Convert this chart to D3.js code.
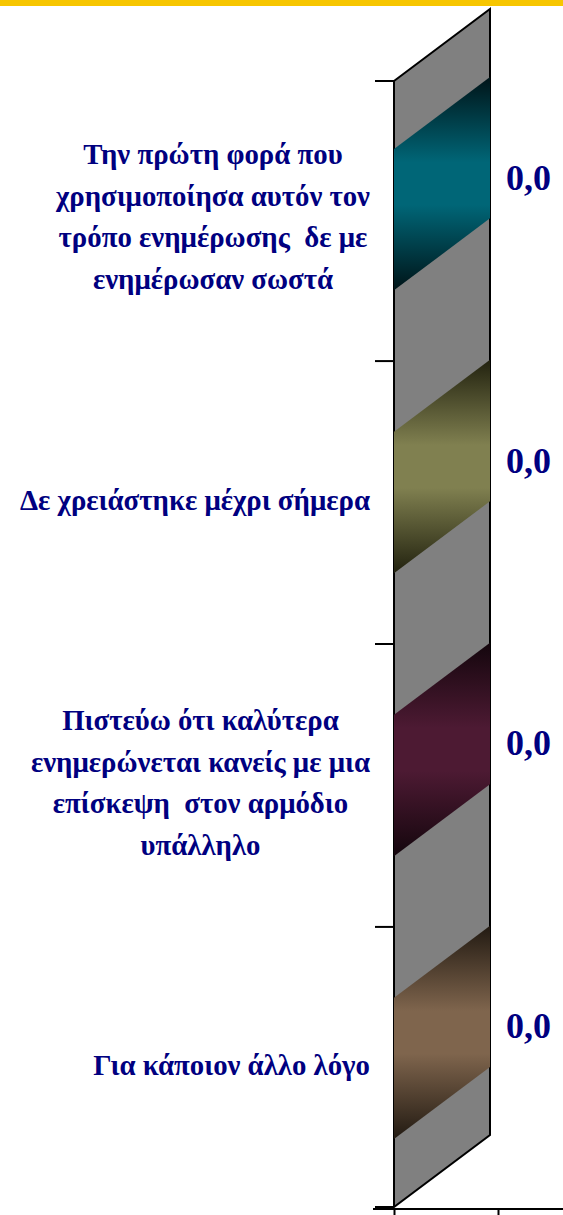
<!DOCTYPE html>
<html><head><meta charset="utf-8">
<script src="https://cdn.jsdelivr.net/npm/d3@7"></script>
<style>body{margin:0;background:#fff}svg{display:block}text{white-space:pre}</style>
</head><body>
<script>
const categories = [
  "Την πρώτη φορά που|χρησιμοποίησα αυτόν τον|τρόπο ενημέρωσης  δε με|ενημέρωσαν σωστά",
  "Δε χρειάστηκε μέχρι σήμερα",
  "Πιστεύω ότι καλύτερα|ενημερώνεται κανείς με μια|επίσκεψη  στον αρμόδιο|υπάλληλο",
  "Για κάποιον άλλο λόγο"
];
const values = [0.0, 0.0, 0.0, 0.0];
const valueLabels = ["0,0", "0,0", "0,0", "0,0"];
const barMid = ["#006677", "#808050", "#4d1a33", "#7f654d"];
const barDark = ["#001418", "#22220f", "#14060d", "#221a12"];

const W = 563, H = 1215;
const svg = d3.select("body").append("svg").attr("width", W).attr("height", H);
const defs = svg.append("defs");

svg.append("rect").attr("x", 0).attr("y", 0).attr("width", W).attr("height", 6).attr("fill", "#f7c600");

const depthX = 96, depthY = -72;
const y = d3.scaleBand().domain(categories).range([81, 1207]).paddingInner(0.5).paddingOuter(0.24);
const x = d3.scaleLinear().domain([0, 1]).range([394, 498]);
const yTop = 81, yBot = 1207;
const x0 = x(0);

// back panel (gray)
svg.append("path")
  .attr("d", `M${x0},${yTop} L${x0 + depthX},${yTop + depthY} L${x0 + depthX},${yBot + depthY} L${x0},${yBot} Z`)
  .attr("fill", "#808080").attr("stroke", "#000").attr("stroke-width", 2).attr("stroke-linejoin", "miter");

// gradients
categories.forEach((c, i) => {
  const g = defs.append("linearGradient").attr("id", "g" + i).attr("x1", 0).attr("y1", 0).attr("x2", 0).attr("y2", 1);
  g.append("stop").attr("offset", 0).attr("stop-color", barDark[i]);
  g.append("stop").attr("offset", 0.4).attr("stop-color", barMid[i]);
  g.append("stop").attr("offset", 0.6).attr("stop-color", barMid[i]);
  g.append("stop").attr("offset", 1).attr("stop-color", barDark[i]);
});

// bars (end caps of zero-length 3D bars)
svg.selectAll("path.bar").data(categories).join("path").attr("class", "bar")
  .attr("d", (c, i) => {
    const xv = x(values[i]);
    const a = y(c), b = y(c) + y.bandwidth();
    return `M${xv},${a} L${xv + depthX},${a + depthY} L${xv + depthX},${b + depthY} L${xv},${b} Z`;
  })
  .attr("fill", (c, i) => `url(#g${i})`);

// left axis ticks at category boundaries
const bounds = categories.map(c => y(c) - y.step() * y.paddingInner() / 2);
bounds[0] = yTop; bounds.push(yBot);
svg.selectAll("line.tick").data(bounds).join("line").attr("class", "tick")
  .attr("x1", x0 - 19).attr("x2", x0).attr("y1", d => d).attr("y2", d => d)
  .attr("stroke", "#000").attr("stroke-width", 2);

// bottom axis
const xAxis = d3.axisBottom(x).tickValues([0, 1]).tickFormat("").tickSizeInner(8).tickSizeOuter(0);
const gx = svg.append("g").attr("transform", `translate(0,${yBot + 2})`).call(xAxis);
gx.select(".domain").remove();
gx.selectAll("line").attr("stroke", "#000").attr("stroke-width", 2);
svg.append("line").attr("x1", x0 - 21).attr("x2", W).attr("y1", yBot + 2).attr("y2", yBot + 2)
  .attr("stroke", "#000").attr("stroke-width", 2);

// category labels
const fontCat = "bold 28.8px 'Liberation Serif', 'Times New Roman', serif";
const lineH = 41.5;
categories.forEach((c, i) => {
  const lines = c.split("|");
  const g = svg.append("g");
  const ts = lines.map((l, k) => g.append("text").text(l)
    .attr("y", y(c) + y.bandwidth() / 2 - 3 + (k - (lines.length - 1) / 2) * lineH)
    .attr("dy", "0.35em")
    .attr("text-anchor", "middle")
    .style("font", fontCat).attr("fill", "#000080"));
  const maxW = d3.max(ts, t => t.node().getComputedTextLength());
  ts.forEach(t => t.attr("x", 370 - maxW / 2));
});

// value labels
svg.selectAll("text.val").data(categories).join("text").attr("class", "val")
  .attr("x", (c, i) => x(values[i]) + depthX + 16)
  .attr("y", c => y(c) + y.bandwidth() / 2 - 30)
  .text((c, i) => valueLabels[i])
  .style("font", "bold 36px 'Liberation Serif', 'Times New Roman', serif")
  .attr("fill", "#000080");
</script>
</body></html>
